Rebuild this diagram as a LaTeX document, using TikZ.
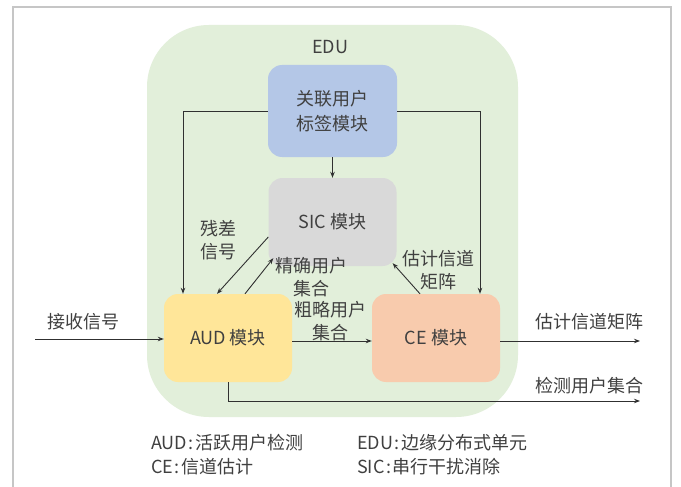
\documentclass[tikz,border=0pt]{standalone}
\usepackage{fontspec}
\setmainfont{Noto Sans CJK SC}
\usetikzlibrary{arrows.meta}
\definecolor{edugreen}{HTML}{E2EFDA}
\definecolor{boxblue}{HTML}{B4C7E7}
\definecolor{boxgray}{HTML}{D9D9D9}
\definecolor{boxyellow}{HTML}{FFE699}
\definecolor{boxorange}{HTML}{F8CBAD}
\definecolor{txt}{HTML}{404040}
\definecolor{ln}{HTML}{303030}
\tikzset{
  module/.style={rounded corners=14pt, minimum width=128pt, minimum height=88pt, text=txt, align=center, font=\fontsize{18}{25}\selectfont, inner sep=0pt},
  lbl/.style={text=txt, align=center, font=\fontsize{18}{23}\selectfont, inner sep=0pt},
  legend/.style={text=txt, anchor=west, font=\fontsize{18}{23}\selectfont, inner sep=0pt},
  arr/.style={draw=ln, line width=0.9pt, -{Stealth[length=6pt,width=4.5pt]}},
}
\begin{document}
\begin{tikzpicture}[x=1pt,y=-1pt]
\useasboundingbox (0,0) rectangle (681,487);
\fill[white] (0,0) rectangle (681,487);
\draw[gray!45, line width=1.2pt] (13,487) -- (13,7) -- (671,7) -- (671,487);
\fill[edugreen, rounded corners=62pt] (147,25) rectangle (518,417);
\node[lbl] (edu) at (330,47) {EDU};

\node[module, fill=boxblue, minimum height=92pt, minimum width=129pt] (tag) at (332.5,111) {关联用户\\标签模块};
\node[module, fill=boxgray] (sic) at (332.5,222) {SIC\hspace{4pt}模块};
\node[module, fill=boxyellow] (aud) at (228,338) {AUD\hspace{4pt}模块};
\node[module, fill=boxorange] (ce) at (436,338) {CE\hspace{4pt}模块};

\draw[arr] (tag.west) -| ([xshift=-45pt]aud.north);
\draw[arr] (tag.east) -| ([xshift=44pt]ce.north);
\draw[arr] (tag.south) -- (sic.north);
\draw[arr] ([yshift=-15pt]sic.west) -- ([xshift=-11pt]aud.north);
\draw[arr] ([xshift=17pt]aud.north) -- ([xshift=5pt,yshift=8pt]sic.south west);
\draw[arr] ([xshift=-16pt]ce.north) -- ([xshift=-4pt,yshift=3pt]sic.south east);
\draw[arr] ([yshift=-3pt]aud.east) -- ([yshift=-3pt]ce.west);

\coordinate (in) at (35,339);
\coordinate (out1) at (640,341);
\coordinate (out2) at (640,401);
\draw[arr] (in) -- ([yshift=-1pt]aud.west);
\draw[arr] ([yshift=-3pt]ce.east) -- (out1);
\draw[arr] (aud.south) |- (out2);

\node[lbl] (l1) at (83,322) {接收信号};
\node[lbl] (l2) at (589,322) {估计信道矩阵};
\node[lbl] (l3) at (589,386) {检测用户集合};
\node[lbl] (l4) at (218,240) {残差\\信号};
\node[lbl] (l5) at (311,277) {精确用户\\集合};
\node[lbl] (l6) at (330,321) {粗略用户\\集合};
\node[lbl] (l7) at (438,270) {估计信道\\矩阵};

\node[legend] (g1) at (151,443) {AUD\hspace{1.5pt}:\hspace{1.5pt}活跃用户检测};
\node[legend] (g2) at (151,467) {CE\hspace{1.5pt}:\hspace{1.5pt}信道估计};
\node[legend] (g3) at (357,443) {EDU\hspace{1.5pt}:\hspace{1.5pt}边缘分布式单元};
\node[legend] (g4) at (357,467) {SIC\hspace{1.5pt}:\hspace{1.5pt}串行干扰消除};
\end{tikzpicture}
\end{document}
